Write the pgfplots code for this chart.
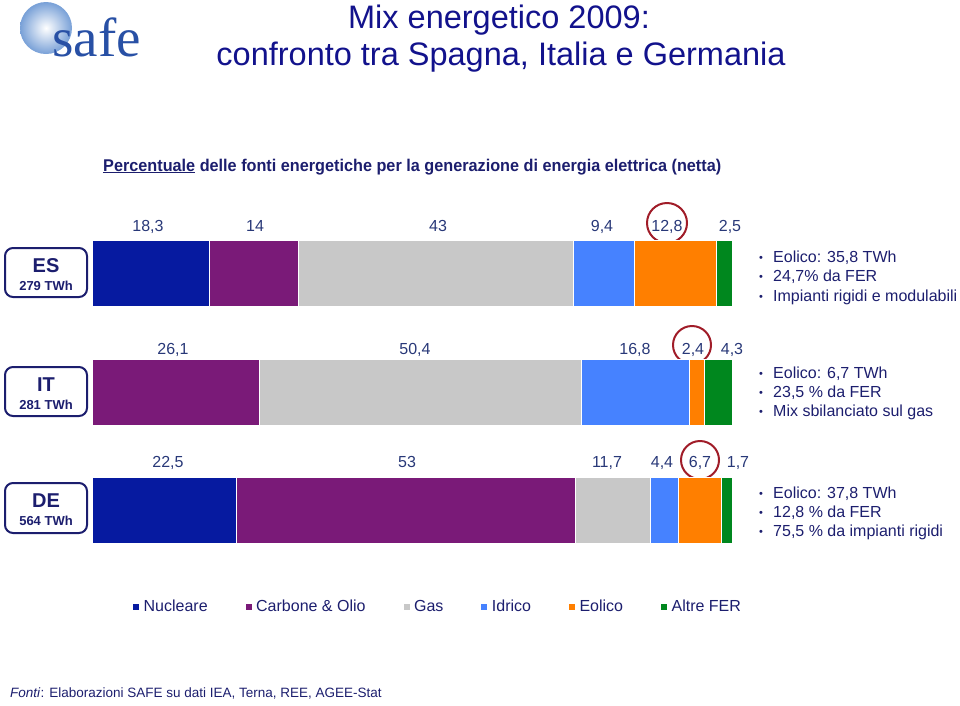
\documentclass[border=0pt]{standalone}
\usepackage{fontspec}
\setmainfont{Liberation Sans}
\newfontfamily\seriffont{Liberation Serif}
\newfontfamily\narrowfont{Liberation Sans}[FakeStretch=0.955]
\usepackage{pgfplots}
\pgfplotsset{compat=1.18}
\definecolor{nuc}{RGB}{6,26,160}
\definecolor{carb}{RGB}{122,26,120}
\definecolor{gasc}{RGB}{200,200,200}
\definecolor{idro}{RGB}{70,130,255}
\definecolor{eol}{RGB}{255,127,0}
\definecolor{altre}{RGB}{0,135,30}
\definecolor{titleblue}{RGB}{18,18,140}
\definecolor{navy}{RGB}{28,30,110}
\definecolor{numc}{RGB}{40,56,120}
\definecolor{circ}{RGB}{160,28,40}
\definecolor{logoblue}{RGB}{40,80,165}
\definecolor{globe}{RGB}{120,160,215}
\begin{document}
\begin{tikzpicture}
\begin{scope}[x=1pt,y=-1pt]
\useasboundingbox (0,0) rectangle (960,705);
% logo
\shade[inner color=white, outer color=globe] (46,28) circle (26);
\node[font=\seriffont\fontsize{55}{55}\selectfont, text=logoblue, anchor=base west, inner sep=0] at (52,56) {safe};
% title
\node[font=\fontsize{32.5}{38}\selectfont, text=titleblue, anchor=base, inner sep=0] at (499,28) {Mix energetico 2009:};
\node[font=\fontsize{32.5}{38}\selectfont, text=titleblue, anchor=base, inner sep=0] at (501,65) {confronto tra Spagna, Italia e Germania};
% subtitle
\node[anchor=base west, inner sep=0, text=navy] at (103,171) {\narrowfont\bfseries\fontsize{17}{20}\selectfont \underline{Percentuale} delle fonti energetiche per la generazione di energia elettrica (netta)};
% country boxes
\foreach \ya/\yb/\code/\twh in {248/297/ES/279, 367/416/IT/281, 483/533/DE/564}{
  \draw[navy, line width=2pt, rounded corners=8pt, fill=white] (5,\ya) rectangle (87,\yb);
  \node[text=navy, font=\bfseries\fontsize{20}{22}\selectfont, anchor=base, inner sep=0] at (46,{\ya+24}) {\code};
  \node[text=navy, font=\bfseries\fontsize{13}{15}\selectfont, anchor=base, inner sep=0] at (46,{\ya+42}) {\twh\ TWh};
}
% value labels
\begin{scope}[every node/.style={text=numc, font=\fontsize{16}{18}\selectfont, anchor=base, inner sep=0}]
\node at (148,231) {18,3};
\node at (255,231) {14};
\node at (438,231) {43};
\node at (602,231) {9,4};
\node at (667,231) {12,8};
\node at (730,231) {2,5};
\node at (173,354) {26,1};
\node at (415,354) {50,4};
\node at (635,354) {16,8};
\node at (693,354) {2,4};
\node at (732,354) {4,3};
\node at (168,467) {22,5};
\node at (407,467) {53};
\node at (607,467) {11,7};
\node at (662,467) {4,4};
\node at (700,467) {6,7};
\node at (738,467) {1,7};
\end{scope}
\draw[circ, line width=2pt] (667,223) circle (20);
\draw[circ, line width=2pt] (692,345) circle (19);
\draw[circ, line width=2pt] (700,460) circle (19);
% bullet text
\begin{scope}[every node/.style={text=navy, font=\fontsize{16}{18}\selectfont, anchor=base west, inner sep=0}]
\foreach \y/\t in {262/{Eolico: 35,8 TWh}, 281/{24,7\% da FER}, 301/{Impianti rigidi e modulabili},
                   378/{Eolico: 6,7 TWh}, 397/{23,5 \% da FER}, 416/{Mix sbilanciato sul gas},
                   498/{Eolico: 37,8 TWh}, 517/{12,8 \% da FER}, 536/{75,5 \% da impianti rigidi}}{
  \node at (759,\y) {\fontsize{11}{12}\selectfont\raisebox{1pt}{•}};
  \node at (773,\y) {\t};
}
\end{scope}
% footer
\node[anchor=base west, inner sep=0, text=navy, font=\fontsize{13.5}{16}\selectfont] at (10,697) {\textit{Fonti}: Elaborazioni SAFE su dati IEA, Terna, REE, AGEE-Stat};
\end{scope}
\begin{axis}[at={(92pt,-214.25pt)}, anchor=north west,
  width=640pt, height=355.5pt, scale only axis,
  xmin=0, xmax=100, ymin=-0.5, ymax=2.5, y dir=reverse,
  xbar stacked, bar width=66pt, hide axis, clip=false,
  legend columns=6,
  legend image code/.code={\fill[#1,draw=none] (0pt,-3pt) rectangle (6pt,3pt);},
  legend style={at={(axis description cs:0.064,-0.1048)}, anchor=west, draw=none, fill=none, inner sep=0pt,
    font=\fontsize{16}{18}\selectfont, text=navy,
    nodes={text height=11.5pt, text depth=3.5pt},
    /tikz/every odd column/.append style={column sep=2.5pt},
    /tikz/every even column/.append style={column sep=36pt}},
  every axis plot/.append style={draw=white, line width=1pt}]
\addplot[fill=nuc] coordinates {(18.3,0) (0,1) (22.5,2)};
\addplot[fill=carb] coordinates {(14,0) (26.1,1) (53,2)};
\addplot[fill=gasc] coordinates {(43,0) (50.4,1) (11.7,2)};
\addplot[fill=idro] coordinates {(9.4,0) (16.8,1) (4.4,2)};
\addplot[fill=eol] coordinates {(12.8,0) (2.4,1) (6.7,2)};
\addplot[fill=altre] coordinates {(2.5,0) (4.3,1) (1.7,2)};
\legend{Nucleare, Carbone \& Olio, Gas, Idrico, Eolico, Altre FER}
\end{axis}
\end{tikzpicture}
\end{document}
